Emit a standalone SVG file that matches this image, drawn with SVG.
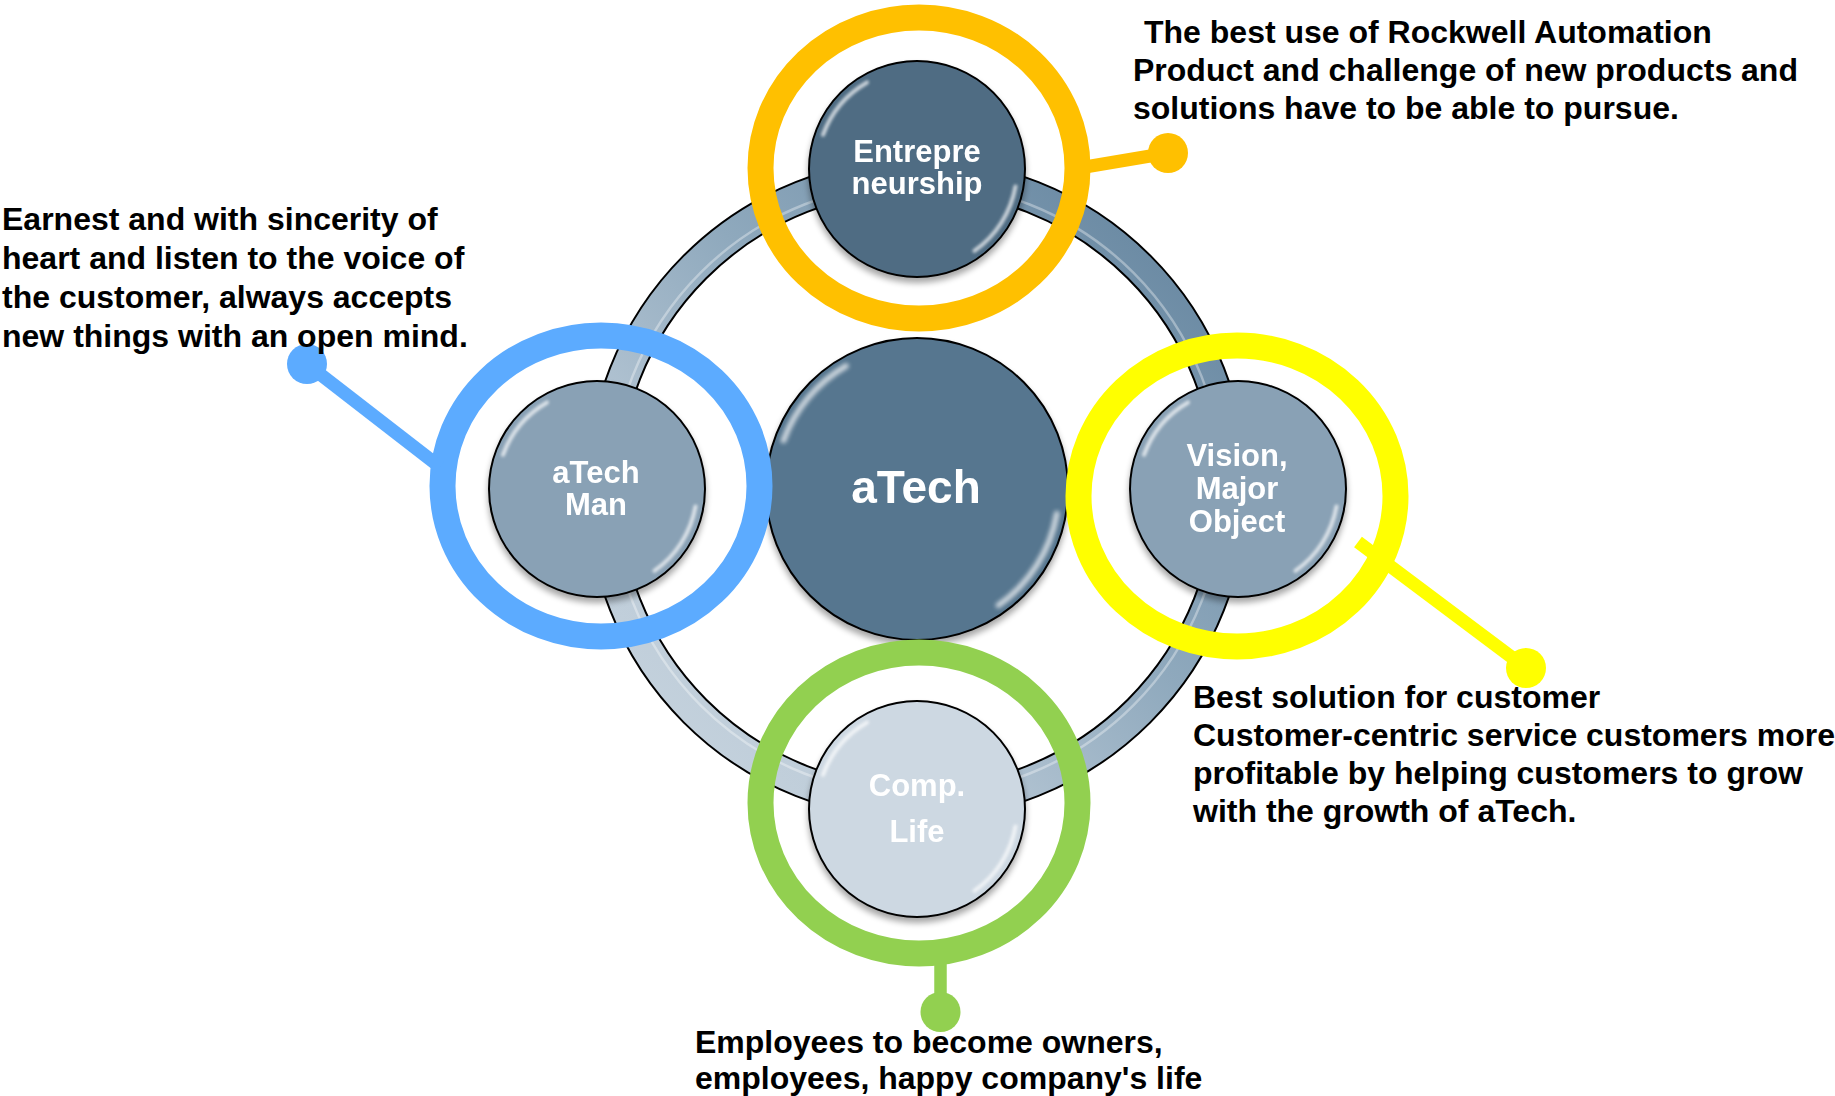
<svg xmlns="http://www.w3.org/2000/svg" width="1835" height="1096" viewBox="0 0 1835 1096">
<style>
.lbl{font-family:"Liberation Sans",Arial,sans-serif;font-weight:bold;font-size:32px;fill:#000}
.nt{font-family:"Liberation Sans",Arial,sans-serif;font-weight:bold;font-size:31px;fill:#fff;text-anchor:middle}
.node{stroke:#000;stroke-width:2}
.ring{fill:none;stroke-width:26}
.gloss{fill:none;stroke:#fff;stroke-width:4;stroke-linecap:round;opacity:0.7}
</style>
<defs>
<linearGradient id="tubeG" x1="1" y1="0" x2="0" y2="1">
<stop offset="0" stop-color="#5f809b"/>
<stop offset="0.45" stop-color="#8fa9bd"/>
<stop offset="0.75" stop-color="#bccbd8"/>
<stop offset="1" stop-color="#cad6e0"/>
</linearGradient>
<filter id="sh" x="-20%" y="-20%" width="140%" height="150%">
<feGaussianBlur in="SourceAlpha" stdDeviation="3"/>
<feOffset dy="5" result="o"/>
<feComponentTransfer><feFuncA type="linear" slope="0.35"/></feComponentTransfer>
<feMerge><feMergeNode/><feMergeNode in="SourceGraphic"/></feMerge>
</filter>
<filter id="bl" x="-50%" y="-50%" width="200%" height="200%"><feGaussianBlur stdDeviation="1.4"/></filter>
<g id="gl">
<path class="gloss" d="M -94 -34.2 A 100 100 0 0 1 -50 -86.6" filter="url(#bl)"/>
<path class="gloss" d="M 98.5 17.4 A 100 100 0 0 1 57.4 81.9" filter="url(#bl)"/>
</g>
</defs>
<rect width="1835" height="1096" fill="#fff"/>

<g id="tube">
<circle cx="917" cy="489" r="314" fill="none" stroke="#000" stroke-width="34"/>
<circle cx="917" cy="489" r="314" fill="none" stroke="url(#tubeG)" stroke-width="30"/>
<circle cx="917" cy="489" r="306" fill="none" stroke="#fff" stroke-width="2.5" opacity="0.35"/>
</g>

<g id="node-center" filter="url(#sh)">
<circle class="node" cx="917" cy="489" r="151" fill="#56768f"/>
<use href="#gl" transform="translate(917 489) scale(1.42)"/>
<text class="nt" x="916" y="503" style="font-size:46px">aTech</text>
</g>

<g id="node-entrepreneurship" filter="url(#sh)">
<circle class="node" cx="917" cy="169" r="108" fill="#4f6c83"/>
<use href="#gl" transform="translate(917 169)"/>
<text class="nt" x="917" y="162">Entrepre</text>
<text class="nt" x="917" y="194">neurship</text>
</g>

<g id="node-atechman" filter="url(#sh)">
<circle class="node" cx="597" cy="489" r="108" fill="#89a1b5"/>
<use href="#gl" transform="translate(597 489)"/>
<text class="nt" x="596" y="483">aTech</text>
<text class="nt" x="596" y="515">Man</text>
</g>

<g id="node-vision" filter="url(#sh)">
<circle class="node" cx="1238" cy="489" r="108" fill="#89a1b5"/>
<use href="#gl" transform="translate(1238 489)"/>
<text class="nt" x="1237" y="466">Vision,</text>
<text class="nt" x="1237" y="499">Major</text>
<text class="nt" x="1237" y="532">Object</text>
</g>

<g id="node-complife" filter="url(#sh)">
<circle class="node" cx="917" cy="809" r="108" fill="#cdd8e2"/>
<use href="#gl" transform="translate(917 809)"/>
<text class="nt" x="917" y="796">Comp.</text>
<text class="nt" x="917" y="842">Life</text>
</g>

<g id="rings">
<ellipse class="ring" cx="919" cy="168" rx="158.5" ry="150.5" stroke="#ffc000"/>
<ellipse class="ring" cx="601" cy="486" rx="158.5" ry="150.5" stroke="#5cabff"/>
<ellipse class="ring" cx="1237" cy="496" rx="158.5" ry="150.5" stroke="#ffff00"/>
<ellipse class="ring" cx="919" cy="803" rx="158.5" ry="150.5" stroke="#92d050"/>
</g>

<g id="connectors">
<line x1="1085" y1="167" x2="1168" y2="153" stroke="#ffc000" stroke-width="13"/>
<circle cx="1168" cy="153" r="20" fill="#ffc000"/>
<line x1="440" y1="467" x2="307" y2="364" stroke="#5cabff" stroke-width="13"/>
<circle cx="307" cy="364" r="20" fill="#5cabff"/>
<line x1="1358" y1="542" x2="1526" y2="668" stroke="#ffff00" stroke-width="13"/>
<circle cx="1526" cy="668" r="20" fill="#ffff00"/>
<line x1="940.5" y1="955" x2="940.5" y2="1012" stroke="#92d050" stroke-width="12.5"/>
<circle cx="940.5" cy="1012" r="20" fill="#92d050"/>
</g>

<g id="labels">
<text class="lbl"><tspan x="1144" y="43">The best use of Rockwell Automation</tspan><tspan x="1133" y="81">Product and challenge of new products and</tspan><tspan x="1133" y="119">solutions have to be able to pursue.</tspan></text>
<text class="lbl"><tspan x="2" y="230">Earnest and with sincerity of</tspan><tspan x="2" y="269">heart and listen to the voice of</tspan><tspan x="2" y="308">the customer, always accepts</tspan><tspan x="2" y="347">new things with an open mind.</tspan></text>
<text class="lbl"><tspan x="1193" y="708">Best solution for customer</tspan><tspan x="1193" y="746">Customer-centric service customers more</tspan><tspan x="1193" y="784">profitable by helping customers to grow</tspan><tspan x="1193" y="822">with the growth of aTech.</tspan></text>
<text class="lbl"><tspan x="695" y="1053">Employees to become owners,</tspan><tspan x="695" y="1089">employees, happy company's life</tspan></text>
</g>
</svg>
